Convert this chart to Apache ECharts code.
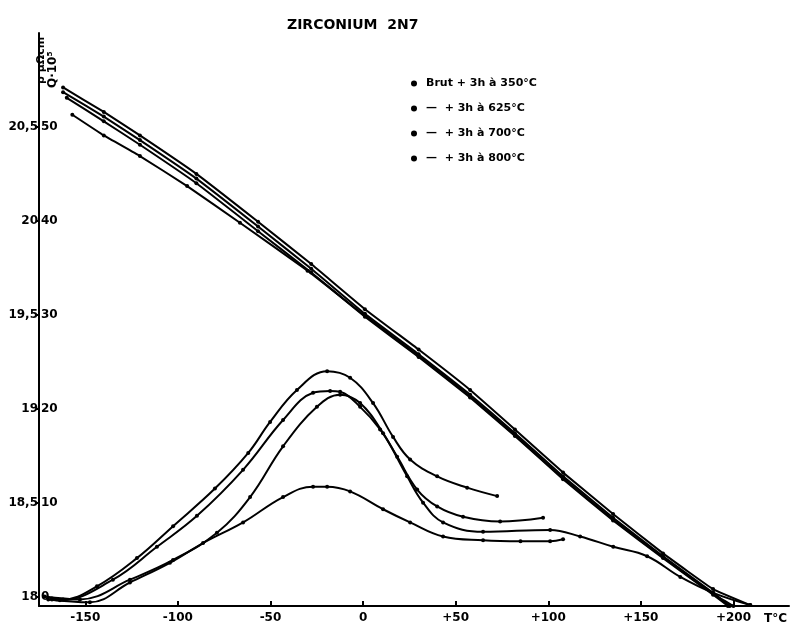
<!DOCTYPE html>
<html>
<head>
<meta charset="utf-8">
<script src="https://cdn.jsdelivr.net/npm/echarts@6/dist/echarts.min.js"></script>
<style>
  html, body { margin: 0; padding: 0; background: #fff; }
  #chart { width: 790px; height: 641px; }
</style>
</head>
<body>
<div id="chart"></div>
<script>
// ticks
const xTicks = [-150, -100, -50, 0, 50, 100, 150, 200]
const yTicks = [0, 10, 20, 30, 40, 50]
const yLeftLabels = ['18', '18,5', '19', '19,5', '20', '20,5']
const yRightLabels = ['0', '10', '20', '30', '40', '50']

const names = [
  'Brut + 3h à 350°C',
  '—  + 3h à 625°C',
  '—  + 3h à 700°C',
  '—  + 3h à 800°C'
]

// descending band (T °C, value in right-hand units)
const band350 = [[-162, 54.2], [-140, 51.6], [-120.5, 49.1], [-90, 45.0], [-56.7, 39.9], [-28, 35.4], [1, 30.6], [30, 26.3], [57.8, 22.0], [82, 17.8], [108, 13.2], [135, 8.8], [162, 4.6], [189, 0.8], [209, -0.9]]
const band625 = [[-162, 53.7], [-140, 51.1], [-120.5, 48.6], [-90, 44.5], [-56.7, 39.4], [-28, 34.9], [1, 30.1], [30, 25.8], [57.8, 21.5], [82, 17.4], [108, 12.8], [135, 8.4], [162, 4.3], [189, 0.4], [198, -1.0]]
const band700 = [[-160, 53.1], [-140, 50.6], [-120.5, 48.1], [-90, 44.0], [-56.7, 38.9], [-28, 34.5], [1, 29.8], [30, 25.5], [57.8, 21.2], [82, 17.1], [108, 12.5], [135, 8.1], [162, 4.1], [189, 0.2], [197, -1.0]]
const band800 = [[-157, 51.3], [-140, 49.1], [-120.5, 46.9], [-95, 43.7], [-66.5, 39.8], [-30, 34.7], [1, 29.9], [30, 25.6], [57.8, 21.3], [82, 17.2], [108, 12.6], [135, 8.2], [162, 4.2], [189, 0.3], [200, -1.0]]

// humps
const hump350 = [[-170, -0.3], [-147.5, -0.6], [-125.9, 1.5], [-104.3, 3.6], [-86.4, 5.7], [-64.8, 7.9], [-43.2, 10.6], [-27.0, 11.7], [-19.4, 11.7], [-7.0, 11.2], [10.8, 9.3], [25.4, 7.9], [43.2, 6.4], [64.8, 6.0], [85, 5.9], [101.0, 5.9], [108.0, 6.1]]
const hump625 = [[-168, -0.2], [-162, -0.3], [-143.7, 1.1], [-122.1, 4.1], [-102.6, 7.5], [-80, 11.5], [-62, 15.3], [-50.2, 18.6], [-35.7, 22.0], [-19.4, 24.0], [-7.0, 23.3], [5.4, 20.6], [16.2, 17.0], [25.4, 14.6], [40.0, 12.8], [56.2, 11.6], [72.4, 10.7]]
const hump700 = [[-168, -0.3], [-163.7, -0.4], [-135.1, 1.8], [-111.3, 5.3], [-89.7, 8.6], [-64.8, 13.5], [-43.2, 18.8], [-27.0, 21.7], [-17.8, 21.9], [-12.4, 21.8], [-1.6, 20.2], [9.2, 17.8], [18.4, 14.9], [29.2, 11.4], [40.0, 9.6], [54.0, 8.5], [74.0, 8.0], [97.2, 8.4]]
const hump800 = [[-172, 0], [-152.9, -0.3], [-125.9, 1.8], [-102.6, 3.9], [-78.9, 6.8], [-61.0, 10.6], [-43.2, 16.0], [-24.9, 20.2], [-12.4, 21.5], [-1.6, 20.6], [10.8, 17.4], [23.8, 12.8], [32.4, 10.0], [43.2, 7.9], [64.8, 6.9], [101.0, 7.1], [117.2, 6.4], [135.1, 5.3], [153.4, 4.3], [171.3, 2.1], [189.1, 0.4], [209.1, -0.9]]

const FONT = 'DejaVu Sans'
const INK = '#000'

const makeLine = (name, data, smooth) => ({
  name,
  type: 'line',
  data,
  smooth,
  symbol: 'circle',
  symbolSize: 4,
  showSymbol: true,
  itemStyle: { color: INK },
  lineStyle: { color: INK, width: 2 },
  emphasis: { disabled: true },
  animation: false
})

const chart = echarts.init(document.getElementById('chart'))

chart.setOption({
  backgroundColor: '#fff',
  animation: false,
  title: {
    text: 'ZIRCONIUM  2N7',
    left: 282,
    top: 13,
    textStyle: { fontFamily: FONT, fontWeight: 'bold', fontSize: 14, color: INK }
  },
  legend: {
    orient: 'vertical',
    left: 406,
    top: 73,
    icon: 'circle',
    itemWidth: 14,
    itemHeight: 6,
    itemGap: 14,
    data: names,
    textStyle: { fontFamily: FONT, fontWeight: 'bold', fontSize: 11, color: INK }
  },
  grid: { left: 39, right: 1, top: 33, bottom: 35 },
  xAxis: {
    type: 'value',
    min: -175,
    max: 230,
    axisLine: { onZero: false, lineStyle: { color: INK, width: 2 } },
    axisTick: { inside: true, length: 5, customValues: xTicks, lineStyle: { color: INK, width: 2 } },
    axisLabel: {
      customValues: xTicks,
      margin: 6,
      color: INK,
      fontFamily: FONT,
      fontWeight: 'bold',
      fontSize: 12,
      formatter: v => (v > 0 ? '+' + v : String(v))
    },
    splitLine: { show: false }
  },
  yAxis: [
    {
      type: 'value',
      min: -1,
      max: 60,
      position: 'left',
      axisLine: { onZero: false, lineStyle: { color: INK, width: 2 } },
      axisTick: { length: 3, customValues: yTicks, lineStyle: { color: INK, width: 2 } },
      axisLabel: {
        customValues: yTicks,
        margin: 1,
        color: INK,
        fontFamily: FONT,
        fontWeight: 'bold',
        fontSize: 12,
        formatter: v => yLeftLabels[yTicks.indexOf(v)]
      },
      splitLine: { show: false }
    },
    {
      type: 'value',
      min: -1,
      max: 60,
      position: 'left',
      axisLine: { show: false, onZero: false },
      axisTick: { show: false },
      axisLabel: {
        inside: true,
        customValues: yTicks,
        margin: 2,
        color: INK,
        fontFamily: FONT,
        fontWeight: 'bold',
        fontSize: 12,
        formatter: v => yRightLabels[yTicks.indexOf(v)]
      },
      splitLine: { show: false }
    }
  ],
  graphic: [
    {
      type: 'text',
      x: 36,
      y: 84,
      rotation: Math.PI / 2,
      style: { text: 'ρ μΩcm', fontFamily: FONT, fontWeight: 'bold', fontSize: 11, fill: INK }
    },
    {
      type: 'text',
      x: 47,
      y: 88,
      rotation: Math.PI / 2,
      style: { text: 'Q·10⁵', fontFamily: FONT, fontWeight: 'bold', fontSize: 12, fill: INK }
    },
    {
      type: 'text',
      x: 764,
      y: 613,
      style: { text: 'T°C', fontFamily: FONT, fontWeight: 'bold', fontSize: 12, fill: INK }
    }
  ],
  series: [
    makeLine(names[0], band350, 0.1),
    makeLine(names[1], band625, 0.1),
    makeLine(names[2], band700, 0.1),
    makeLine(names[3], band800, 0.1),
    makeLine(names[0], hump350, 0.4),
    makeLine(names[1], hump625, 0.4),
    makeLine(names[2], hump700, 0.4),
    makeLine(names[3], hump800, 0.4)
  ]
})
</script>
</body>
</html>
